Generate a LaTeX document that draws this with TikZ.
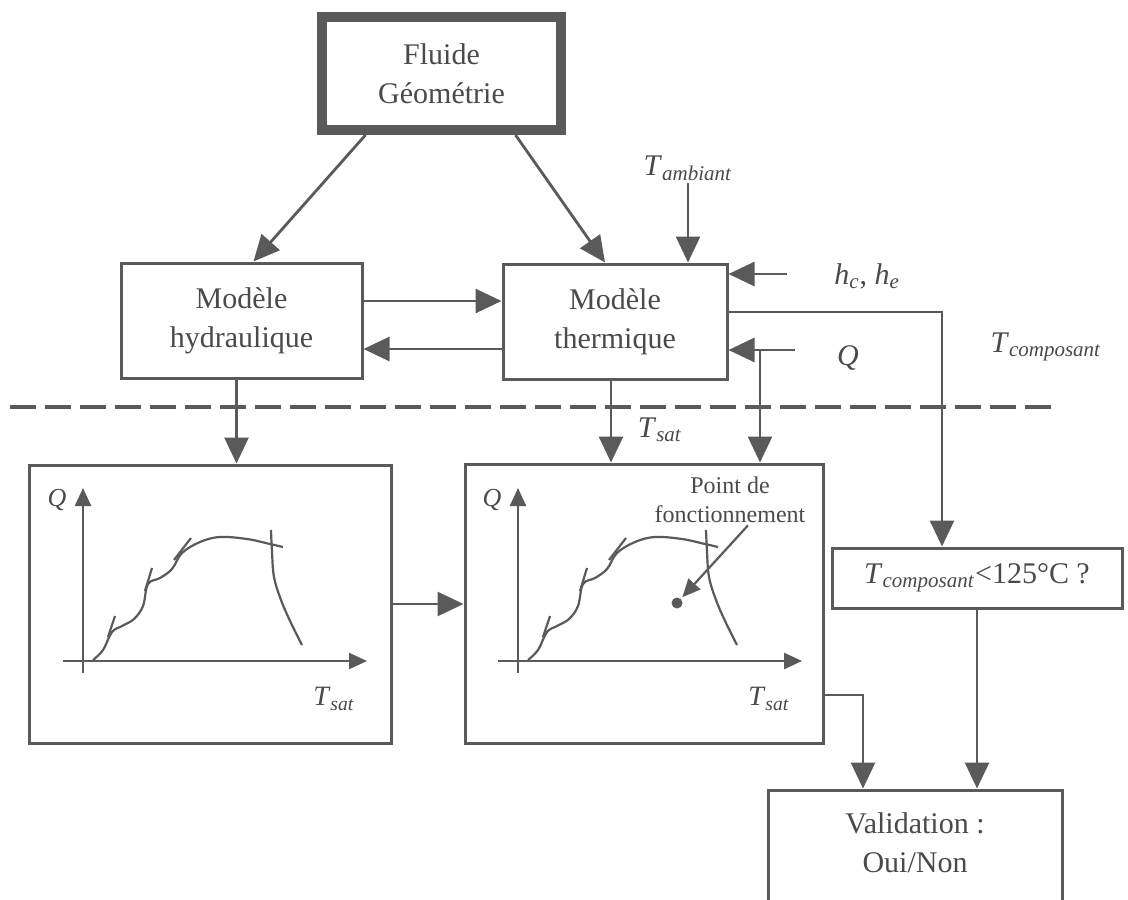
\documentclass[tikz,border=0pt]{standalone}
\usepackage{fontspec}
\setmainfont{Liberation Serif}
\usetikzlibrary{arrows.meta,positioning,calc}
\definecolor{trait}{HTML}{5A5A5A}
\definecolor{encre}{HTML}{4A4A4A}
\newcommand{\ind}[2]{\textit{#1}\textsubscript{\textit{#2}}}

\begin{document}
\begin{tikzpicture}[x=0.5pt, y=-0.5pt,
  bloc/.style={rectangle, draw=trait, line width=1.5pt, fill=white, align=center, text=encre, font=\fontsize{15}{19.5}\selectfont, inner sep=0pt},
  cadre/.style={bloc, line width=5pt},
  lbl/.style={text=encre, font=\fontsize{15}{18}\selectfont, inner sep=1pt},
  fl/.style={-{Triangle[length=13pt, width=12pt]}, line width=1.4pt, draw=trait},
  ax/.style={-{Triangle[length=9pt, width=8pt]}, line width=1.2pt, draw=trait},
  crb/.style={line width=1.1pt, draw=trait}
]
  \clip (0,0) rectangle (1128,899);
  \fill[white] (0,0) rectangle (1128,899);

  % blocs
  \node[cadre, minimum width=119.5pt, minimum height=56.5pt] (fluide) at (441.5,73.5) {Fluide\\Géométrie};
  \node[bloc, minimum width=120.5pt, minimum height=57.5pt] (hydrau) at (241.5,320.5) {Modèle\\hydraulique};
  \node[bloc, minimum width=112pt, minimum height=57.5pt] (thermo) at (615,321.5) {Modèle\\thermique};
  \node[bloc, minimum width=181pt, minimum height=139pt] (courbe1) at (210.5,604) {};
  \node[bloc, minimum width=179pt, minimum height=139.5pt] (courbe2) at (644,603.5) {};
  \node[bloc, minimum width=145pt, minimum height=30pt] (test) at (977,578) {\ind{T}{composant}<125°C ?};
  \node[bloc, minimum width=147pt, minimum height=70pt] (valid) at (915,860) {};
  \node[lbl, align=center, font=\fontsize{15}{19.5}\selectfont] (validtxt) at (915,843) {Validation :\\Oui/Non};

  % entrees
  \node[lbl] (tamb) at (688,168) {\ind{T}{ambiant}};
  \node[lbl, anchor=west] (hche) at (832,276) {\ind{h}{c}, \ind{h}{e}};
  \node[lbl] (qlab) at (848,358) {\textit{Q}};
  \node[lbl] (tclab) at (1046,347) {\ind{T}{composant}};
  \coordinate (hin) at (787,274);
  \coordinate (qin) at (795,350);
  \coordinate (qbr) at (760,350);

  \draw[trait, line width=2pt, dash pattern=on 13pt off 4.5pt] (10,407) -- (1052,407);

  % liaisons
  \draw[fl] ([xshift=-38pt]fluide.south) -- ([xshift=6pt]hydrau.north);
  \draw[fl] ([xshift=37pt]fluide.south) -- ([xshift=-5pt]thermo.north);
  \draw[fl] ([yshift=9.75pt]hydrau.east) -- ([yshift=9.75pt]hydrau.east -| thermo.west);
  \draw[fl] ([yshift=-13.75pt]thermo.west) -- ([yshift=-13.75pt]thermo.west -| hydrau.east);
  \draw[fl] (tamb.south) -- (tamb.south |- thermo.north);
  \draw[fl] (hin) -- (hin -| thermo.east);
  \draw[fl] (qin) -- (qin -| thermo.east);
  \draw[fl] (qbr) -- (qbr |- courbe2.north);
  \draw[fl] ([yshift=4.75pt]thermo.east) -| ([xshift=-17.5pt]test.north);
  \draw[fl] ([xshift=-2.5pt]hydrau.south) -- ([xshift=-2.5pt]hydrau.south |- courbe1.north);
  \draw[fl] ([xshift=-2pt]thermo.south) -- ([xshift=-2pt]thermo.south |- courbe2.north);
  \node[lbl] (tsat) at (660,430) {\ind{T}{sat}};
  \draw[fl] (courbe1.east) -- (courbe1.east -| courbe2.west);
  \draw[fl] ([yshift=-45.75pt]courbe2.east) -| ([xshift=-26pt]valid.north);
  \draw[fl] (test.south) -- (test.south |- valid.north);

  % courbes Q(Tsat)
  \foreach \dx in {0,435} {
    \begin{scope}[xshift=\dx*0.5pt]
      \draw[ax] (83,673) -- (83,488);
      \draw[ax] (63,661) -- (367,661);
      \node[lbl, font=\fontsize{13}{15}\selectfont] (axq\dx) at (57,500) {\textit{Q}};
      \node[lbl, font=\fontsize{14}{16}\selectfont] (axt\dx) at (334,699) {\ind{T}{sat}};
      \draw[crb] plot[smooth, tension=0.6] coordinates {(93,660) (103,650) (112,632) (122,626) (134,619) (143,606) (148,584) (160,578) (172,569) (182,553) (200,542) (220,537) (247,539) (270,544) (283,547)};
      \draw[crb] plot[smooth, tension=0.6] coordinates {(271,530) (272,552) (274,577) (281,600) (291,623) (302,645)};
      \draw[crb] (115,616) -- (108,637);
      \draw[crb] (152,568) -- (145,591);
      \draw[crb] (191,538) -- (174,560);
    \end{scope}
  }

  % point de fonctionnement
  \node[circle, fill=trait, inner sep=0pt, minimum size=5.5pt] (pt) at (677,603) {};
  \node[lbl, align=center, font=\fontsize{12}{14.5}\selectfont] (pf) at (730,500) {Point de\\fonctionnement};
  \draw[-{Triangle[length=9pt, width=8pt]}, line width=1.1pt, draw=trait, shorten >=1pt] ([xshift=9pt]pf.south) -- (pt);
\end{tikzpicture}
\end{document}
